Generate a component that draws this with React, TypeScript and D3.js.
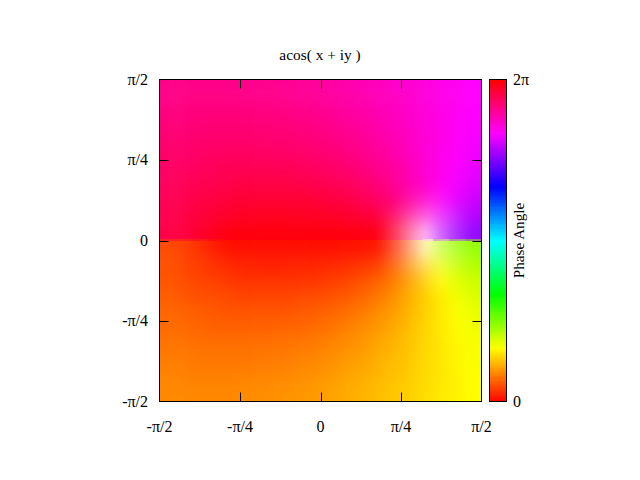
import React from "react";
import * as d3 from "d3";

// phase of acos(x+iy) in degrees, read per cell, left to right
const phaseAbove = [
  [328, 328, 328, 328, 328, 327, 327, 326, 325, 324, 322, 320, 318, 316, 313, 311, 308, 305, 303, 300],
  [329, 330, 330, 330, 330, 329, 329, 328, 327, 326, 324, 322, 320, 317, 315, 312, 309, 306, 303, 300],
  [331, 331, 332, 332, 332, 332, 331, 331, 330, 328, 327, 324, 322, 319, 316, 313, 309, 306, 302, 299],
  [333, 333, 334, 334, 334, 334, 334, 333, 332, 331, 329, 327, 325, 321, 318, 314, 310, 306, 302, 298],
  [335, 335, 336, 337, 337, 337, 337, 336, 336, 334, 333, 330, 327, 324, 320, 315, 310, 305, 301, 297],
  [336, 337, 338, 339, 340, 340, 340, 340, 339, 338, 336, 334, 331, 327, 323, 317, 311, 305, 299, 295],
  [338, 340, 341, 342, 343, 344, 344, 344, 343, 342, 341, 339, 336, 332, 326, 319, 311, 304, 297, 292],
  [340, 342, 344, 345, 347, 348, 348, 348, 348, 347, 346, 344, 341, 337, 331, 323, 312, 301, 293, 288],
  [341, 344, 346, 349, 351, 352, 353, 353, 352, 352, 351, 350, 348, 345, 339, 329, 311, 295, 286, 282],
  [343, 345, 349, 354, 357, 357, 357, 357, 357, 357, 357, 356, 356, 355, 352, 345, 307, 282, 276, 274],
];
const phaseBelow = [
  [17, 15, 11, 6, 3, 3, 3, 3, 3, 3, 3, 4, 4, 5, 8, 15, 53, 78, 84, 86],
  [19, 16, 14, 11, 9, 8, 7, 7, 8, 8, 9, 10, 12, 15, 21, 31, 49, 65, 74, 78],
  [20, 18, 16, 15, 13, 12, 12, 12, 12, 13, 14, 16, 19, 23, 29, 37, 48, 59, 67, 72],
  [22, 20, 19, 18, 17, 16, 16, 16, 17, 18, 19, 21, 24, 28, 34, 41, 49, 56, 63, 68],
  [24, 23, 22, 21, 20, 20, 20, 20, 21, 22, 24, 26, 29, 33, 37, 43, 49, 55, 61, 65],
  [25, 25, 24, 23, 23, 23, 23, 24, 24, 26, 27, 30, 33, 36, 40, 45, 50, 55, 59, 63],
  [27, 27, 26, 26, 26, 26, 26, 27, 28, 29, 31, 33, 35, 39, 42, 46, 50, 54, 58, 62],
  [29, 29, 28, 28, 28, 28, 29, 29, 30, 32, 33, 36, 38, 41, 44, 47, 51, 54, 58, 61],
  [31, 30, 30, 30, 30, 31, 31, 32, 33, 34, 36, 38, 40, 43, 45, 48, 51, 54, 57, 60],
  [32, 32, 32, 32, 32, 33, 33, 34, 35, 36, 38, 40, 42, 44, 47, 49, 52, 55, 57, 60],
];
// magnitude below 1 fades to white; rows counted away from the real axis
const magnitudeNearAxis = [
  [1, 1, 1, 1, 1, 1, 1, 1, 1, 1, 1, 1, 1, 0.99, 0.79, 0.5, 0.28, 0.6, 0.81, 0.96],
  [1, 1, 1, 1, 1, 1, 1, 1, 1, 1, 1, 1, 1, 1, 0.89, 0.72, 0.62, 0.75, 0.88, 1],
  [1, 1, 1, 1, 1, 1, 1, 1, 1, 1, 1, 1, 1, 1, 1, 0.92, 0.88, 0.91, 0.99, 1],
];
// cells where the branch cut runs along the real axis
const cutColumns = [0, 1, 2, 3, 16, 17, 18, 19];

const axisTicks = [-Math.PI / 2, -Math.PI / 4, 0, Math.PI / 4, Math.PI / 2];
const axisLabels = ["-π/2", "-π/4", "0", "π/4", "π/2"];
const colorbarTicks = [0, 2 * Math.PI];
const colorbarLabels = ["0", "2π"];

const left = 159.5;
const right = 481.5;
const top = 79.5;
const bottom = 401.5;
const mid = (top + bottom) / 2;
const splitY = Math.floor(mid);
const barLeft = 489.5;
const barRight = 506.5;
const tickLen = 9;
const pad = 40;
const font = "'Liberation Serif', serif";

const x = d3.scaleLinear().domain([-Math.PI / 2, Math.PI / 2]).range([left, right]);
const y = d3.scaleLinear().domain([-Math.PI / 2, Math.PI / 2]).range([bottom, top]);
const bar = d3.scaleLinear().domain([0, 2 * Math.PI]).range([bottom, top]);
const col = d3.scaleBand<number>().domain(d3.range(20)).range([left, right]);
const rowAbove = d3.scaleBand<number>().domain(d3.range(10)).range([top, mid]);
const rowBelow = d3.scaleBand<number>().domain(d3.range(10)).range([mid, bottom]);

const hueColor = (deg: number, mag = 1) =>
  d3.interpolateRgb("#ffffff", d3.hsl(deg, 1, 0.5).toString())(mag);

const barLevels = d3.range(161);

function Half({ rows, band, flip, filter }: { rows: number[][]; band: d3.ScaleBand<number>; flip: boolean; filter: string }) {
  return (
    <g filter={filter}>
      {rows.map((r, j) => {
        const fromAxis = flip ? rows.length - 1 - j : j;
        const mags = magnitudeNearAxis[fromAxis];
        const y0 = band(j)!;
        const h = band.bandwidth();
        const yy = j === 0 ? y0 - pad : y0;
        const hh = j === 0 || j === rows.length - 1 ? h + pad : h + 0.5;
        return r.map((deg, i) => {
          const x0 = col(i)!;
          const w = col.bandwidth();
          return (
            <rect
              key={`${j}-${i}`}
              x={i === 0 ? x0 - pad : x0}
              y={yy}
              width={i === 0 || i === r.length - 1 ? w + pad : w + 0.5}
              height={hh}
              fill={hueColor(deg, mags ? mags[i] : 1)}
            />
          );
        });
      })}
    </g>
  );
}

export default function App() {
  const strokeProps = { stroke: "#000", strokeWidth: 1 };
  return (
    <svg width={640} height={480} style={{ position: "absolute", left: 0, top: 0, background: "#fff" }} fontFamily={font}>
      <defs>
        <filter id="soft" filterUnits="userSpaceOnUse" x={0} y={0} width={640} height={480} colorInterpolationFilters="sRGB">
          <feGaussianBlur stdDeviation={7} />
        </filter>
        <clipPath id="clipAbove"><rect x={left} y={top} width={right - left} height={splitY - top} /></clipPath>
        <clipPath id="clipBelow"><rect x={left} y={splitY} width={right - left} height={bottom - splitY} /></clipPath>
      </defs>

      <g clipPath="url(#clipAbove)">
        <Half rows={phaseAbove} band={rowAbove} flip={true} filter="url(#soft)" />
      </g>
      <g clipPath="url(#clipBelow)">
        <Half rows={phaseBelow} band={rowBelow} flip={false} filter="url(#soft)" />
      </g>

      {/* seam row along the branch cut */}
      {cutColumns.map((i) => (
        <rect
          key={i}
          x={i === 16 ? x(1) : col(i)!}
          y={splitY - 1}
          width={i === 16 ? col(i)! + col.bandwidth() - x(1) + 0.5 : col.bandwidth() + 0.5}
          height={2}
          fill={d3.interpolateRgb(
            hueColor(phaseAbove[9][i], magnitudeNearAxis[0][i]),
            hueColor(phaseBelow[0][i], magnitudeNearAxis[0][i])
          )(0.5)}
        />
      ))}

      {/* colorbar */}
      {barLevels.map((k) => {
        const a = (k / barLevels.length) * 2 * Math.PI;
        const b = ((k + 1) / barLevels.length) * 2 * Math.PI;
        const yTop = Math.round(bar(b));
        return (
          <rect key={k} x={barLeft} y={yTop} width={barRight - barLeft} height={Math.round(bar(a)) - yTop}
            fill={hueColor((k + 0.5) * (360 / barLevels.length))} shapeRendering="crispEdges" />
        );
      })}
      <rect x={barLeft} y={top} width={barRight - barLeft} height={bottom - top} fill="none" {...strokeProps} />
      {colorbarTicks.map((t, i) => (
        <text key={t} x={513} y={bar(t) + 5} fontSize={16}>{colorbarLabels[i]}</text>
      ))}
      <text transform={`translate(524,${mid}) rotate(-90)`} textAnchor="middle" fontSize={15.2}>Phase Angle</text>

      {/* frame and ticks */}
      <rect x={left} y={top} width={right - left} height={bottom - top} fill="none" {...strokeProps} />
      {axisTicks.slice(1, -1).map((t) => (
        <g key={t} {...strokeProps}>
          <line x1={Math.round(x(t)) + 0.5} x2={Math.round(x(t)) + 0.5} y1={bottom} y2={bottom - tickLen} />
          <line x1={Math.round(x(t)) + 0.5} x2={Math.round(x(t)) + 0.5} y1={top} y2={top + tickLen} />
          <line x1={left} x2={left + tickLen} y1={Math.round(y(t)) + 0.5} y2={Math.round(y(t)) + 0.5} />
          <line x1={right} x2={right - tickLen} y1={Math.round(y(t)) + 0.5} y2={Math.round(y(t)) + 0.5} />
        </g>
      ))}
      {axisTicks.map((t, i) => (
        <text key={`x${i}`} x={x(t)} y={432} textAnchor="middle" fontSize={16}>{axisLabels[i]}</text>
      ))}
      {axisTicks.map((t, i) => (
        <text key={`y${i}`} x={148} y={y(t) + 5} textAnchor="end" fontSize={16}>{axisLabels[i]}</text>
      ))}

      <text x={320} y={60} textAnchor="middle" fontSize={15.4}>acos( x + iy )</text>
    </svg>
  );
}
